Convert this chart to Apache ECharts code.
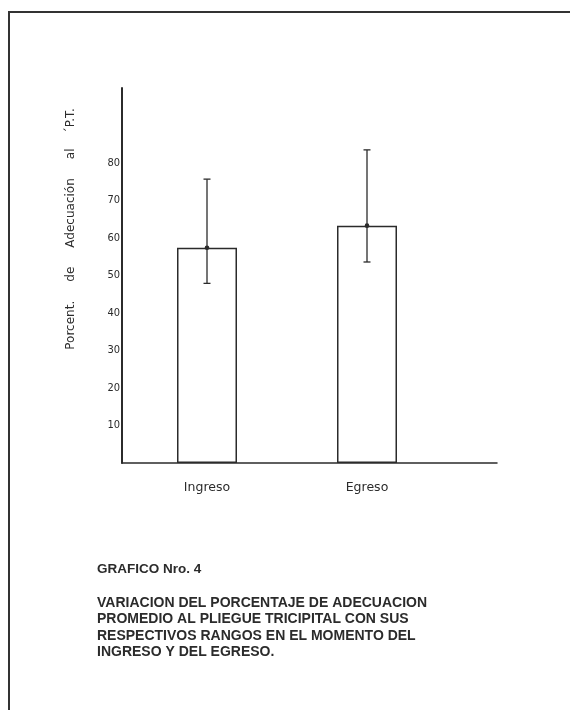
<!DOCTYPE html>
<html>
<head>
<meta charset="utf-8">
<script src="https://cdn.jsdelivr.net/npm/echarts@6/dist/echarts.min.js"></script>
<style>
  html, body { margin: 0; padding: 0; background: #fff; }
  #frame { position: absolute; left: 8px; top: 11px; width: 560px; height: 699px;
           border-left: 2px solid #333; border-top: 2px solid #333; border-right: 1px solid #ccc; }
  #chart { position: absolute; left: 0; top: 0; width: 570px; height: 710px; }
</style>
</head>
<body>
<div id="frame"></div>
<div id="chart"></div>
<script>
const categories = ['Ingreso', 'Egreso'];
const means = [57.4, 63.3];
const lows = [47.9, 53.6];
const highs = [75.7, 83.5];
const yTickLabels = [10, 20, 30, 40, 50, 60, 70, 80];
const yAxisTitle = 'Porcent.     de     Adecuación     al    ´P.T.';
const captionTitle = 'GRAFICO Nro. 4';
const captionLines = [
  'VARIACION DEL PORCENTAJE DE ADECUACION',
  'PROMEDIO AL PLIEGUE TRICIPITAL CON SUS',
  'RESPECTIVOS RANGOS EN EL MOMENTO DEL',
  'INGRESO Y DEL EGRESO.'
];

const ink = '#2b2b2b';
const chart = echarts.init(document.getElementById('chart'), null, { renderer: 'canvas' });

chart.setOption({
  backgroundColor: 'transparent',
  animation: false,
  title: [
    { text: captionTitle, left: 97, top: 562, padding: 0,
      textStyle: { fontFamily: 'Liberation Sans', fontWeight: 'bold', fontSize: 13.5, color: ink } },
    { text: captionLines.join('\n'), left: 97, top: 595, padding: 0,
      textStyle: { fontFamily: 'Liberation Sans', fontWeight: 'bold', fontSize: 14, lineHeight: 16.4, color: ink } }
  ],
  grid: [
    { left: 127, width: 320, top: 88, bottom: 247 },
    { left: 122, right: 73, top: 88, bottom: 247 }
  ],
  xAxis: [
    { type: 'category', gridIndex: 0, data: categories,
      axisLine: { show: false }, axisTick: { show: false },
      axisLabel: { margin: 18, fontSize: 12.5, color: ink, fontFamily: 'DejaVu Sans, sans-serif' } },
    { type: 'value', gridIndex: 1, min: 0, max: 1,
      axisLine: { show: true, lineStyle: { color: ink, width: 1.5 } },
      axisTick: { show: false }, axisLabel: { show: false }, splitLine: { show: false } }
  ],
  yAxis: [
    { type: 'value', gridIndex: 0, min: 0, max: 100, interval: 10, offset: 5,
      axisLine: { show: true, lineStyle: { color: ink, width: 2 } },
      axisTick: { show: false }, splitLine: { show: false },
      axisLabel: { margin: 2, fontSize: 11, color: ink, fontFamily: 'DejaVu Sans Condensed, DejaVu Sans, sans-serif',
        formatter: v => yTickLabels.indexOf(v) >= 0 ? String(v) : '' } },
    { type: 'value', gridIndex: 1, show: false, min: 0, max: 1, splitLine: { show: false } }
  ],
  graphic: [
    { type: 'text', x: 71, y: 229, rotation: Math.PI / 2,
      style: { text: yAxisTitle, fontSize: 12, fill: ink, align: 'center', verticalAlign: 'middle',
        fontFamily: 'DejaVu Sans, sans-serif' } }
  ],
  series: [
    { type: 'bar', xAxisIndex: 0, yAxisIndex: 0, data: means, barWidth: 60,
      itemStyle: { color: '#fff', borderColor: ink, borderWidth: 1.5 } },
    { type: 'custom', xAxisIndex: 0, yAxisIndex: 0,
      data: categories.map((c, i) => [i, lows[i], highs[i], means[i]]),
      renderItem: function (params, api) {
        const x = api.value(0);
        const lo = api.coord([x, api.value(1)]);
        const hi = api.coord([x, api.value(2)]);
        const mid = api.coord([x, api.value(3)]);
        const cap = 3.5;
        const ls = { stroke: ink, lineWidth: 1.3 };
        return { type: 'group', children: [
          { type: 'line', shape: { x1: hi[0], y1: hi[1], x2: lo[0], y2: lo[1] }, style: ls },
          { type: 'line', shape: { x1: hi[0] - cap, y1: hi[1], x2: hi[0] + cap, y2: hi[1] }, style: ls },
          { type: 'line', shape: { x1: lo[0] - cap, y1: lo[1], x2: lo[0] + cap, y2: lo[1] }, style: ls },
          { type: 'circle', shape: { cx: mid[0], cy: mid[1], r: 2.3 }, style: { fill: ink } }
        ] };
      },
      z: 5 }
  ]
});
</script>
</body>
</html>
